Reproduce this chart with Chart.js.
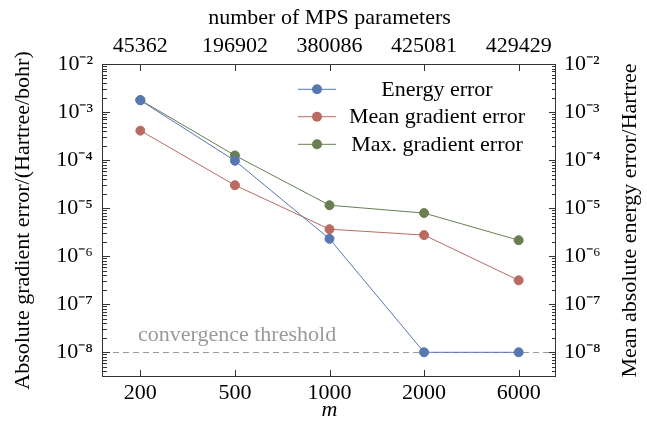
<!DOCTYPE html>
<html>
<head>
<meta charset="utf-8">
<script src="https://cdn.jsdelivr.net/npm/chart.js@4.4.1/dist/chart.umd.min.js"></script>
<style>
html,body{margin:0;padding:0;background:#fff;}
#wrap{width:647px;height:425px;position:relative;}
</style>
</head>
<body>
<div id="wrap"><canvas id="c" width="647" height="425"></canvas></div>
<script>
// ---- data ----
const mValues = ['200', '500', '1000', '2000', '6000'];
const mpsParams = ['45362', '196902', '380086', '425081', '429429'];
const energyError = [1.75e-3, 9.7e-5, 2.3e-6, 1e-8, 1e-8];
const meanGradError = [4.1e-4, 3.0e-5, 3.65e-6, 2.75e-6, 3.15e-7];
const maxGradError = [1.78e-3, 1.25e-4, 1.15e-5, 7.9e-6, 2.15e-6];
const yTickExponents = [-8, -7, -6, -5, -4, -3, -2];
const threshold = 1e-8;
const seriesLabels = ['Energy error', 'Mean gradient error', 'Max. gradient error'];
const seriesColors = ['#5877b0', '#b96b62', '#687f50'];

const FONT = 'Liberation Serif, Times New Roman, serif';
const FS = 22;
const supMap = {'-':'\u207B','0':'\u2070','1':'\u00B9','2':'\u00B2','3':'\u00B3','4':'\u2074','5':'\u2075','6':'\u2076','7':'\u2077','8':'\u2078','9':'\u2079'};
const sup = s => String(s).split('').map(ch => supMap[ch] || ch).join('');

const toPts = arr => arr.map((v, i) => ({x: i, y: v}));
const datasets = [energyError, meanGradError, maxGradError].map((arr, k) => ({
  label: seriesLabels[k],
  data: toPts(arr),
  borderColor: seriesColors[k],
  backgroundColor: seriesColors[k],
  borderWidth: 1,
  pointRadius: 4.5,
  pointBorderWidth: 1,
  pointHoverRadius: 4.5,
  tension: 0,
  yAxisID: 'y'
}));

const X_MIN = -0.395, X_MAX = 4.395;
const Y_MIN = 3.06e-9, Y_MAX = 1e-2;

const setXTicks = s => { s.ticks = mValues.map((_, i) => ({value: i})); };
const setYTicks = s => { s.ticks = yTickExponents.map(e => ({value: Math.pow(10, e)})); };
const yLabel = v => '10' + sup(Math.round(Math.log10(v)));

const decor = {
  id: 'decor',
  beforeDatasetsDraw(chart) {
    const {ctx, chartArea: a, scales} = chart;
    const y = Math.round(scales.y.getPixelForValue(threshold)) + 0.5;
    ctx.save();
    ctx.strokeStyle = '#9a9a9a';
    ctx.lineWidth = 1;
    ctx.setLineDash([6, 4]);
    ctx.beginPath(); ctx.moveTo(a.left, y); ctx.lineTo(a.right, y); ctx.stroke();
    ctx.setLineDash([]);
    ctx.fillStyle = '#9a9a9a';
    ctx.font = FS + 'px ' + FONT;
    ctx.textAlign = 'left';
    ctx.textBaseline = 'alphabetic';
    ctx.fillText('convergence threshold', 138, 341);
    ctx.restore();
  },
  afterDatasetsDraw(chart) {
    const {ctx, chartArea: a, scales} = chart;
    ctx.save();
    ctx.strokeStyle = '#333';
    ctx.lineWidth = 1;
    // frame
    ctx.strokeRect(Math.round(a.left) - 0.5, Math.round(a.top) + 0.5, Math.round(a.right - a.left) + 0, Math.round(a.bottom - a.top) - 1);
    // y ticks (major + minor), both sides
    ctx.beginPath();
    for (let e = -9; e <= -2; e++) {
      for (let m = 1; m <= 9; m++) {
        const v = m * Math.pow(10, e);
        if (v < Y_MIN * 1.01 || v > Y_MAX * 1.0001) continue;
        const py = Math.round(scales.y.getPixelForValue(v)) + 0.5;
        const len = m === 1 ? 7 : 4;
        ctx.moveTo(a.left, py); ctx.lineTo(a.left + len, py);
        ctx.moveTo(a.right, py); ctx.lineTo(a.right - len, py);
      }
    }
    // x ticks top & bottom
    for (let i = 0; i < mValues.length; i++) {
      const px = Math.round(scales.x.getPixelForValue(i)) + 0.5;
      ctx.moveTo(px, a.bottom); ctx.lineTo(px, a.bottom - 7);
      ctx.moveTo(px, a.top); ctx.lineTo(px, a.top + 7);
    }
    ctx.stroke();

    // legend
    ctx.font = FS + 'px ' + FONT;
    ctx.textAlign = 'center';
    ctx.textBaseline = 'middle';
    const rows = [89.3, 116.7, 144.3];
    chart.data.datasets.forEach((ds, k) => {
      const ry = rows[k];
      ctx.strokeStyle = ds.borderColor;
      ctx.fillStyle = ds.borderColor;
      ctx.beginPath(); ctx.moveTo(298, ry); ctx.lineTo(336, ry); ctx.stroke();
      ctx.beginPath(); ctx.arc(317, ry, 5, 0, Math.PI * 2); ctx.fill();
      ctx.fillStyle = '#000';
      ctx.fillText(ds.label, 437, ry + 1);
    });

    // right axis title (reads bottom to top)
    ctx.translate(630, (a.top + a.bottom) / 2);
    ctx.rotate(-Math.PI / 2);
    ctx.fillStyle = '#000';
    ctx.textAlign = 'center';
    ctx.textBaseline = 'middle';
    ctx.fillText('Mean absolute energy error/Hartree', 0, 0);
    ctx.restore();
  }
};

Chart.defaults.font.family = FONT;
Chart.defaults.font.size = FS;
Chart.defaults.color = '#000';

new Chart(document.getElementById('c'), {
  type: 'line',
  data: {datasets},
  plugins: [decor],
  options: {
    responsive: false,
    animation: false,
    events: [],
    layout: {padding: 0},
    plugins: {legend: {display: false}, tooltip: {enabled: false}},
    scales: {
      x: {
        type: 'linear', position: 'bottom', min: X_MIN, max: X_MAX,
        afterBuildTicks: setXTicks,
        afterFit: s => { s.height = 48; },
        grid: {display: false, drawTicks: false}, border: {display: false},
        ticks: {padding: 3, maxRotation: 0, autoSkip: false, callback: v => mValues[v]},
        title: {display: true, text: 'm', font: {style: 'italic', size: FS}, padding: {top: 0, bottom: 2}}
      },
      x2: {
        type: 'linear', position: 'top', min: X_MIN, max: X_MAX,
        afterBuildTicks: setXTicks,
        afterFit: s => { s.height = 64; },
        grid: {display: false, drawTicks: false}, border: {display: false},
        ticks: {padding: 5, maxRotation: 0, autoSkip: false, callback: v => mpsParams[v]},
        title: {display: true, text: 'number of MPS parameters', padding: {top: 5, bottom: 0}}
      },
      y: {
        type: 'logarithmic', position: 'left', min: Y_MIN, max: Y_MAX,
        afterBuildTicks: setYTicks,
        afterFit: s => { s.width = 103; },
        grid: {display: false, drawTicks: false}, border: {display: false},
        ticks: {padding: 10, autoSkip: false, callback: yLabel},
        title: {display: true, text: 'Absolute gradient error/(Hartree/bohr)', padding: {top: 10, bottom: 0}}
      },
      y2: {
        type: 'logarithmic', position: 'right', min: Y_MIN, max: Y_MAX,
        afterBuildTicks: setYTicks,
        afterFit: s => { s.width = 91; },
        grid: {display: false, drawTicks: false}, border: {display: false},
        ticks: {padding: 8, autoSkip: false, callback: yLabel}
      }
    }
  }
});
</script>
</body>
</html>
